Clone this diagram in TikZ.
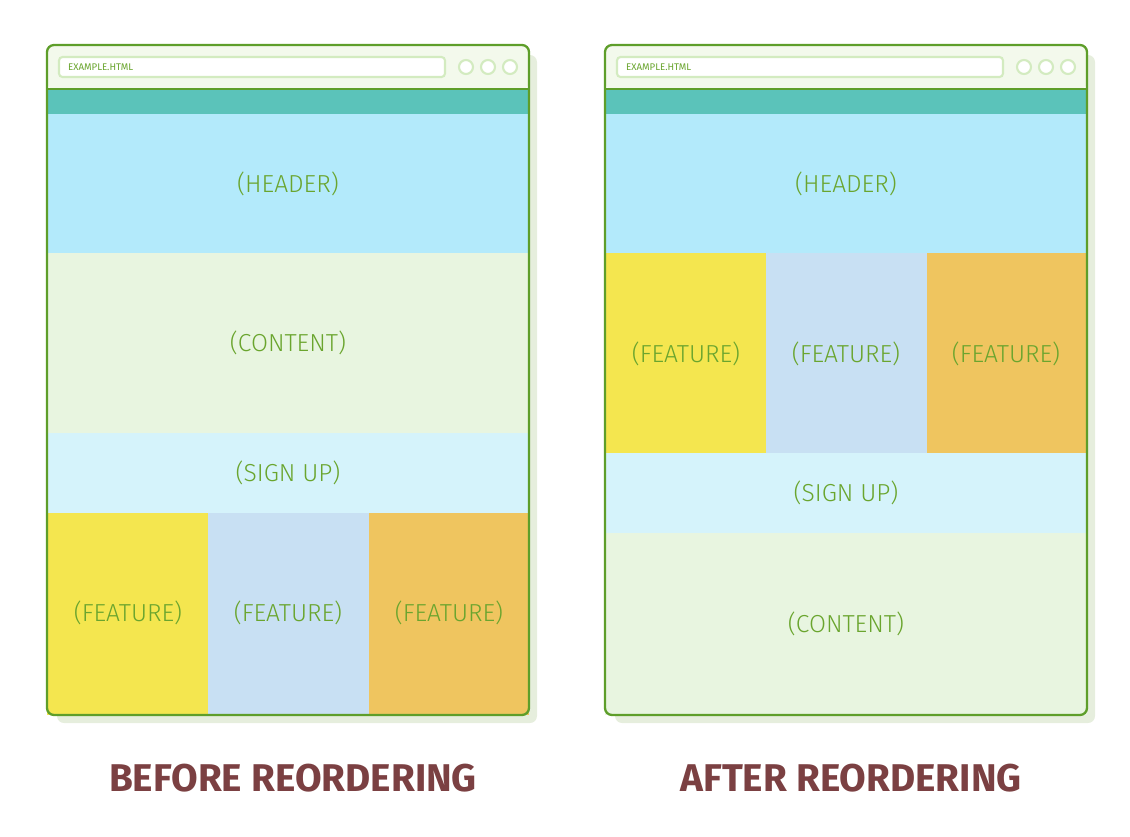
\documentclass[tikz,border=0pt]{standalone}
\usepackage{fontspec}
\setmainfont{Fira Sans}
\definecolor{frame}{HTML}{5E9E2A}
\definecolor{bar}{HTML}{F3F9EC}
\definecolor{addr}{HTML}{D3EBC0}
\definecolor{teal}{HTML}{5BC3BA}
\definecolor{hdr}{HTML}{B3EAFB}
\definecolor{cont}{HTML}{E8F5E0}
\definecolor{sign}{HTML}{D5F3FB}
\definecolor{fyel}{HTML}{F4E64F}
\definecolor{fblu}{HTML}{C8E0F3}
\definecolor{forg}{HTML}{EFC55F}
\definecolor{shad}{HTML}{E6EEDD}
\definecolor{lbl}{HTML}{6AA52E}
\definecolor{ttl}{HTML}{7B4042}
\tikzset{lab/.style={text=lbl,font=\fontsize{14}{16}\selectfont\fontspec{Fira Sans Light}},
 ttlstyle/.style={text=ttl,font=\fontsize{22}{26}\selectfont\bfseries},
 blk/.style={draw=none}}
\begin{document}
\begin{tikzpicture}[x=0.02cm,y=-0.02cm]
\useasboundingbox (0,0) rectangle (1130,836);
\foreach \ox/\nm in {0/L,558/R}{
\begin{scope}[xshift=\ox*0.02cm]
\fill[shad,rounded corners=4] (57,55) rectangle (537,723);
\fill[white,rounded corners=4] (47,45) rectangle (529,715);
\fill[bar,rounded corners=4] (47,45) rectangle (529,89);
\fill[teal] (47,89) rectangle (529,114);
\fill[hdr] (47,114) rectangle (529,253);
\node[lab] (hd\nm) at (288,184) {(HEADER)};
\draw[addr,line width=1.2pt,fill=white,rounded corners=2] (59,57) rectangle (445,77);
\node[anchor=west,text=lbl,font=\fontsize{5.5}{6}\selectfont] (url\nm) at (62,67.5) {EXAMPLE.HTML};
\foreach \cx in {466,488,510}{\draw[addr,line width=1.2pt,fill=white] (\cx,67) circle (7);}
\end{scope}}
% left
\fill[cont] (47,253) rectangle (529,433); \node[lab] (cL) at (288,343) {(CONTENT)};
\fill[sign] (47,433) rectangle (529,513); \node[lab] (sL) at (288,473) {(SIGN UP)};
\fill[fyel] (47,513) rectangle (208,715); \node[lab] (f1L) at (128,613) {(FEATURE)};
\fill[fblu] (208,513) rectangle (369,715); \node[lab] (f2L) at (288,613) {(FEATURE)};
\fill[forg] (369,513) rectangle (529,715); \node[lab] (f3L) at (449,613) {(FEATURE)};
% right
\fill[fyel] (605,253) rectangle (766,453); \node[lab] (f1R) at (686,354) {(FEATURE)};
\fill[fblu] (766,253) rectangle (927,453); \node[lab] (f2R) at (846,354) {(FEATURE)};
\fill[forg] (927,253) rectangle (1087,453); \node[lab] (f3R) at (1006,354) {(FEATURE)};
\fill[sign] (605,453) rectangle (1087,533); \node[lab] (sR) at (846,493) {(SIGN UP)};
\fill[cont] (605,533) rectangle (1087,715); \node[lab] (cR) at (846,624) {(CONTENT)};
\foreach \ox in {0,558}{
\begin{scope}[xshift=\ox*0.02cm]
\draw[frame,line width=1.2pt] (47,89) -- (529,89);
\draw[frame,line width=1.3pt,rounded corners=4] (47,45) rectangle (529,715);
\end{scope}}
\node[ttlstyle] (tL) at (293,778) {BEFORE REORDERING};
\node[ttlstyle] (tR) at (851,778) {AFTER REORDERING};
\end{tikzpicture}
\end{document}
